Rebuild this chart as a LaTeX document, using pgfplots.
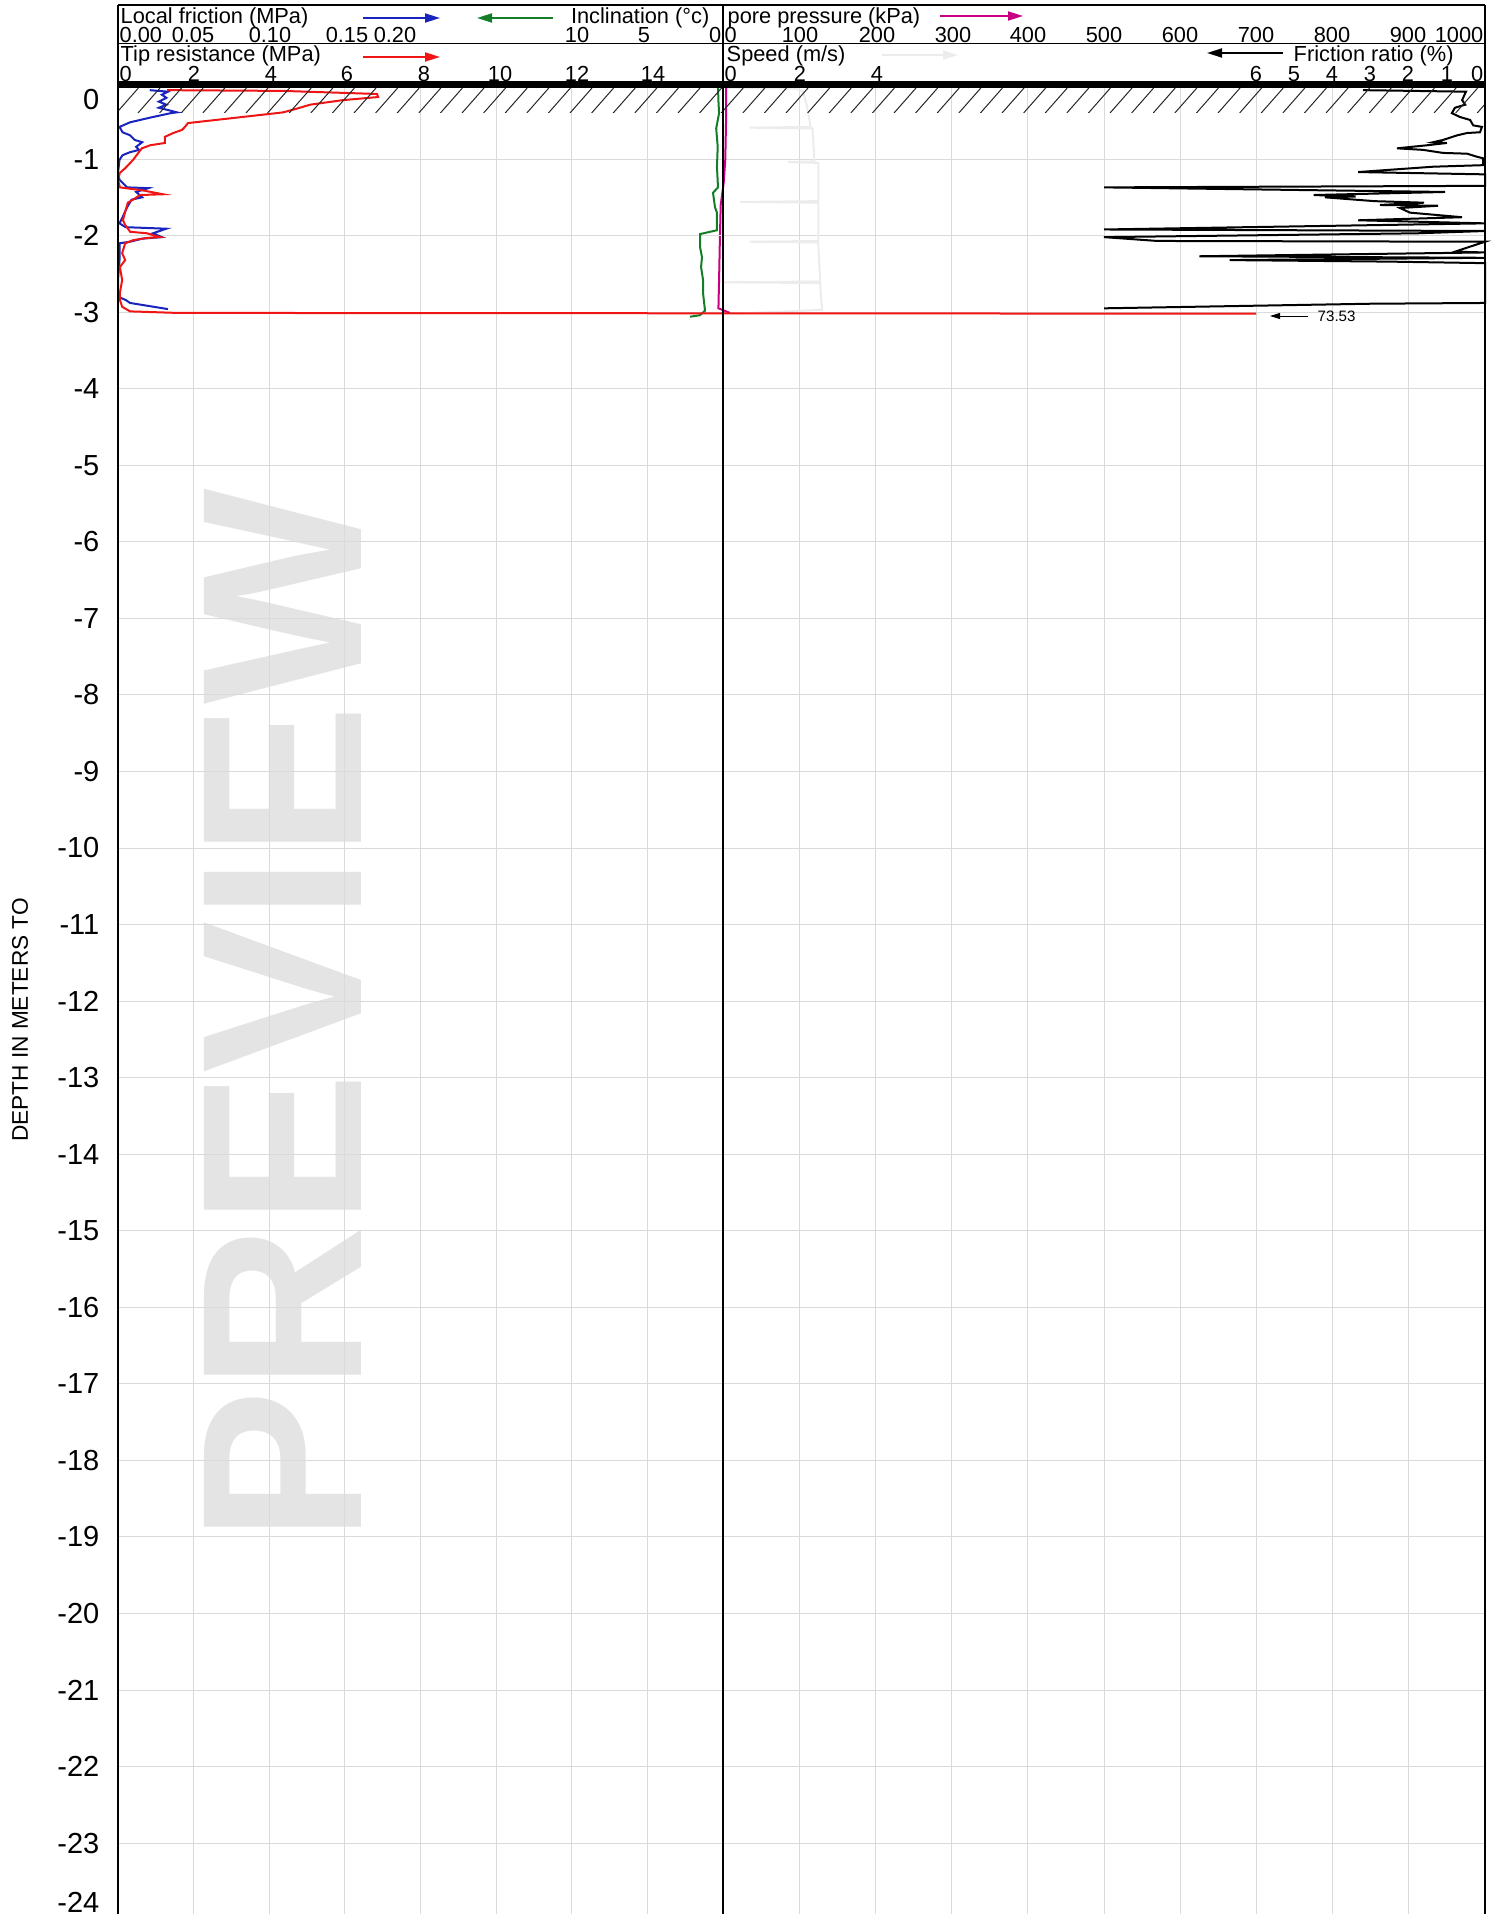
\documentclass[border=0pt]{standalone}
\usepackage{fontspec}
\setmainfont{Liberation Sans}
\usepackage{pgfplots}
\pgfplotsset{compat=1.18}
\usepackage{pgfplotstable}
\usetikzlibrary{arrows.meta}

\definecolor{cpblue}{RGB}{25,35,190}
\definecolor{cpred}{RGB}{240,20,20}
\definecolor{cpgreen}{RGB}{20,125,40}
\definecolor{cpmag}{RGB}{200,0,130}
\definecolor{cpgrid}{RGB}{218,218,218}
\definecolor{cpspeed}{RGB}{236,236,236}
\definecolor{cpwm}{RGB}{228,228,228}

% Tip resistance (MPa)
\pgfplotstableread{
d tip
-0.10 1.30
-0.11 4.37
-0.15 6.85
-0.19 6.88
-0.23 5.95
-0.29 5.08
-0.34 4.74
-0.39 4.37
-0.41 4.02
-0.53 1.85
-0.58 1.77
-0.62 1.69
-0.66 1.46
-0.71 1.24
-0.79 1.24
-0.82 0.85
-0.86 0.63
-1.01 0.40
-1.12 0.19
-1.18 0.05
-1.27 0.00
-1.37 0.05
-1.41 0.66
-1.46 1.19
-1.47 0.58
-1.53 0.40
-1.57 0.26
-1.69 0.19
-1.80 0.13
-1.86 0.19
-1.95 0.32
-1.97 0.77
-2.02 1.11
-2.03 0.77
-2.06 0.40
-2.10 0.19
-2.23 0.11
-2.32 0.19
-2.41 0.05
-2.58 0.11
-2.75 0.05
-2.84 0.05
-2.93 0.11
-2.99 0.32
-3.01 1.56
-3.02 30.10
}\tipdata

% Local friction (MPa)
\pgfplotstableread{
d fs
-0.10 0.021
-0.12 0.033
-0.16 0.029
-0.20 0.032
-0.25 0.027
-0.29 0.032
-0.33 0.027
-0.39 0.039
-0.40 0.035
-0.46 0.021
-0.52 0.008
-0.58 0.001
-0.65 0.003
-0.69 0.008
-0.75 0.011
-0.78 0.016
-0.84 0.012
-0.88 0.014
-0.91 0.008
-0.95 0.003
-1.01 0.001
-1.18 0.000
-1.27 0.001
-1.37 0.006
-1.38 0.020
-1.43 0.012
-1.50 0.016
-1.53 0.009
-1.63 0.006
-1.76 0.003
-1.84 0.001
-1.89 0.005
-1.91 0.032
-1.97 0.023
-2.02 0.029
-2.04 0.016
-2.08 0.008
-2.10 0.001
-2.32 0.001
-2.58 0.000
-2.80 0.000
-2.84 0.005
-2.88 0.008
-2.96 0.033
}\fsdata

% Inclination (deg)
\pgfplotstableread{
d incl
-0.07 0.33
-0.25 0.30
-0.40 0.26
-0.60 0.45
-0.84 0.35
-1.10 0.40
-1.37 0.33
-1.44 0.66
-1.63 0.53
-1.70 0.40
-1.93 0.40
-1.98 1.52
-2.15 1.52
-2.28 1.39
-2.41 1.45
-2.58 1.32
-2.75 1.32
-2.98 1.19
-3.04 1.52
-3.06 2.18
}\incldata

% Pore pressure (kPa)
\pgfplotstableread{
d u
-0.05 4
-0.50 4
-1.00 3
-1.30 1
-1.60 -3
-2.00 -4
-2.50 -5
-2.95 -6
-3.01 9
}\poredata

% Speed (m/s)
\pgfplotstableread{
d v
-0.07 0.10
-0.08 1.90
-0.12 2.10
-0.30 2.20
-0.58 2.30
-0.59 0.70
-0.60 2.35
-1.03 2.40
-1.04 1.70
-1.05 2.50
-1.55 2.50
-1.56 0.45
-1.57 2.50
-2.07 2.50
-2.08 0.70
-2.09 2.50
-2.60 2.55
-2.61 0.00
-2.62 2.55
-2.97 2.60
-3.02 0.30
}\speeddata

% Friction ratio (%)
\pgfplotstableread{
d fr
-0.10 3.20
-0.12 0.50
-0.14 0.52
-0.23 0.60
-0.29 0.52
-0.33 0.79
-0.40 0.87
-0.45 0.66
-0.49 0.39
-0.56 0.31
-0.58 0.08
-0.65 0.13
-0.66 0.47
-0.69 0.73
-0.75 1.10
-0.78 1.36
-0.79 1.00
-0.82 1.52
-0.86 2.31
-0.88 1.63
-0.92 1.10
-0.93 0.47
-0.97 0.21
-0.99 0.05
-1.08 0.05
-1.10 1.36
-1.17 3.33
-1.20 0.00
-1.35 0.00
-1.37 10.00
-1.43 1.05
-1.47 4.50
-1.49 3.40
-1.50 4.20
-1.55 2.90
-1.57 1.60
-1.60 2.76
-1.61 1.23
-1.64 2.23
-1.70 1.97
-1.76 0.60
-1.80 3.33
-1.83 0.84
-1.84 0.00
-1.92 10.00
-1.94 0.00
-1.97 1.78
-2.02 10.00
-2.07 8.60
-2.08 0.00
-2.21 0.79
-2.22 0.00
-2.27 7.50
-2.29 0.00
-2.32 6.70
-2.34 2.50
-2.36 0.00
-2.88 0.00
-2.89 3.00
-2.95 10.00
}\frdata

\pgfplotsset{cpt/.style={
  anchor=north west, scale only axis,
  height=183.72mm, ymin=-24, ymax=0,
  ytick={-24,-23,...,0},
  xticklabels={}, clip=false,
  axis line style={draw=none}, major tick length=0pt,
  grid=major, grid style={cpgrid, line width=0.1mm},
}}

\begin{document}
\begin{tikzpicture}
\path[use as bounding box] (0,0) rectangle (149.2mm,-191.4mm);

% watermark
\begin{scope}[x=0.1mm,y=-0.1mm]
\node[rotate=90, text=cpwm, font=\fontsize{65}{65}\selectfont\bfseries, inner sep=0pt] at (283,1016) {PREVIEW};
\end{scope}

% right panel: pore pressure / speed / friction ratio
\begin{axis}[cpt, at={(72.3mm,-8.25mm)}, width=76.2mm,
  xmin=0, xmax=1000, xtick={0,100,...,1000}, yticklabels={}]
\addplot[cpspeed, line width=0.2mm] table[x expr=50*\thisrow{v}, y=d] {\speeddata};
\addplot[black, line width=0.2mm] table[x expr=1000-50*\thisrow{fr}, y=d] {\frdata};
\addplot[cpmag, line width=0.2mm] table[x=u, y=d] {\poredata};
\end{axis}

% left panel: tip resistance / local friction / inclination
\begin{axis}[cpt, at={(11.8mm,-8.25mm)}, width=60.5mm,
  xmin=0, xmax=16, xtick={0,2,...,16},
  yticklabels={{},-23,-22,-21,-20,-19,-18,-17,-16,-15,-14,-13,-12,-11,-10,-9,-8,-7,-6,-5,-4,-3,-2,-1,{}},
  yticklabel style={font=\fontsize{8.25}{9}\selectfont, inner sep=0pt, xshift=-1.8mm}]
\addplot[cpgreen, line width=0.2mm] table[x expr=16-0.4*\thisrow{incl}, y=d] {\incldata};
\addplot[cpblue, line width=0.2mm] table[x expr=40*\thisrow{fs}, y=d] {\fsdata};
\addplot[cpred, line width=0.2mm] table[x=tip, y=d] {\tipdata};
\end{axis}

\begin{scope}[x=0.1mm,y=-0.1mm]
% hatching of ground surface
\begin{scope}
\clip (118,86) rectangle (1485,113);
\foreach \i in {-1,0,...,64} {
  \draw[line width=0.1mm, black!85] ({116.4+\i*21.6},113) -- ({138.4+\i*21.6},88);
}
\end{scope}
% frames
\fill[black] (118,81.5) rectangle (1485,88.5);
\draw[line width=0.15mm] (118,5) -- (1485,5);
\draw[line width=0.15mm] (118,43.5) -- (1485,43.5);
\draw[line width=0.25mm] (118,5) -- (118,1950);
\draw[line width=0.2mm] (723,5) -- (723,1950);
\draw[line width=0.15mm] (1485,5) -- (1485,1950);

% header texts
\begin{scope}[every node/.style={inner sep=0pt, font=\fontsize{6.2}{7}\selectfont}]
\node[anchor=base west] at (120,24) {Local friction (MPa)};
\node[anchor=base east] at (710,24) {Inclination (°c)};
\node[anchor=base west] at (727,24) {pore pressure (kPa)};
\node[anchor=base west] at (120,62) {Tip resistance (MPa)};
\node[anchor=base west] at (726,62) {Speed (m/s)};
\node[anchor=base west] at (1293,62) {Friction ratio (\%)};
% row 1 ticks
\node[anchor=base west] at (119,43) {0.00};
\node[anchor=base] at (193,43) {0.05};
\node[anchor=base] at (270,43) {0.10};
\node[anchor=base] at (347,43) {0.15};
\node[anchor=base] at (395,43) {0.20};
\node[anchor=base] at (577,43) {10};
\node[anchor=base] at (644,43) {5};
\node[anchor=base east] at (722,43) {0};
\node[anchor=base west] at (724,43) {0};
\foreach \v/\xx in {100/800,200/877,300/953,400/1028,500/1104,600/1180,700/1256,800/1332,900/1408}
  \node[anchor=base] at (\xx,43) {\v};
\node[anchor=base east] at (1484,43) {1000};
% row 2 ticks
\node[anchor=base west] at (119,81.5) {0};
\foreach \v/\xx in {2/194,4/271,6/347,8/424,10/500,12/577,14/653}
  \node[anchor=base] at (\xx,81.5) {\v};
\node[anchor=base west] at (724,81.5) {0};
\node[anchor=base] at (800,81.5) {2};
\node[anchor=base] at (877,81.5) {4};
\foreach \v/\xx in {6/1256,5/1294,4/1332,3/1370,2/1408,1/1447}
  \node[anchor=base] at (\xx,81.5) {\v};
\node[anchor=base east] at (1484,81.5) {0};
\end{scope}
% legend arrows
\draw[cpblue, line width=0.18mm, -{Triangle[length=1.5mm,width=0.9mm]}] (363,18) -- (440,18);
\draw[cpgreen, line width=0.18mm, -{Triangle[length=1.5mm,width=0.9mm]}] (553,18) -- (477,18);
\draw[cpred, line width=0.18mm, -{Triangle[length=1.5mm,width=0.9mm]}] (363,57) -- (440,57);
\draw[cpmag, line width=0.18mm, -{Triangle[length=1.5mm,width=0.9mm]}] (940,16) -- (1023,16);
\draw[cpspeed, line width=0.18mm, -{Triangle[length=1.5mm,width=0.9mm]}] (882,55) -- (958,55);
\draw[black, line width=0.18mm, -{Triangle[length=1.5mm,width=0.9mm]}] (1283,53) -- (1207,53);

% off-scale annotation
\draw[black, line width=0.1mm, -{Triangle[length=1.0mm,width=0.6mm]}] (1308,316) -- (1270,316);
\node[anchor=west, inner sep=0pt, font=\fontsize{4.3}{5}\selectfont] at (1317,316) {73.53};

% y tick labels at the ends and axis title
\node[anchor=east, inner sep=0pt, font=\fontsize{8.25}{9}\selectfont] at (100,100) {0};
\node[anchor=east, inner sep=0pt, font=\fontsize{8.25}{9}\selectfont] at (100,1902) {-24};
\node[rotate=90, inner sep=0pt, font=\fontsize{6.45}{7}\selectfont] at (20,1020) {DEPTH IN METERS TO};
\end{scope}
\end{tikzpicture}
\end{document}
